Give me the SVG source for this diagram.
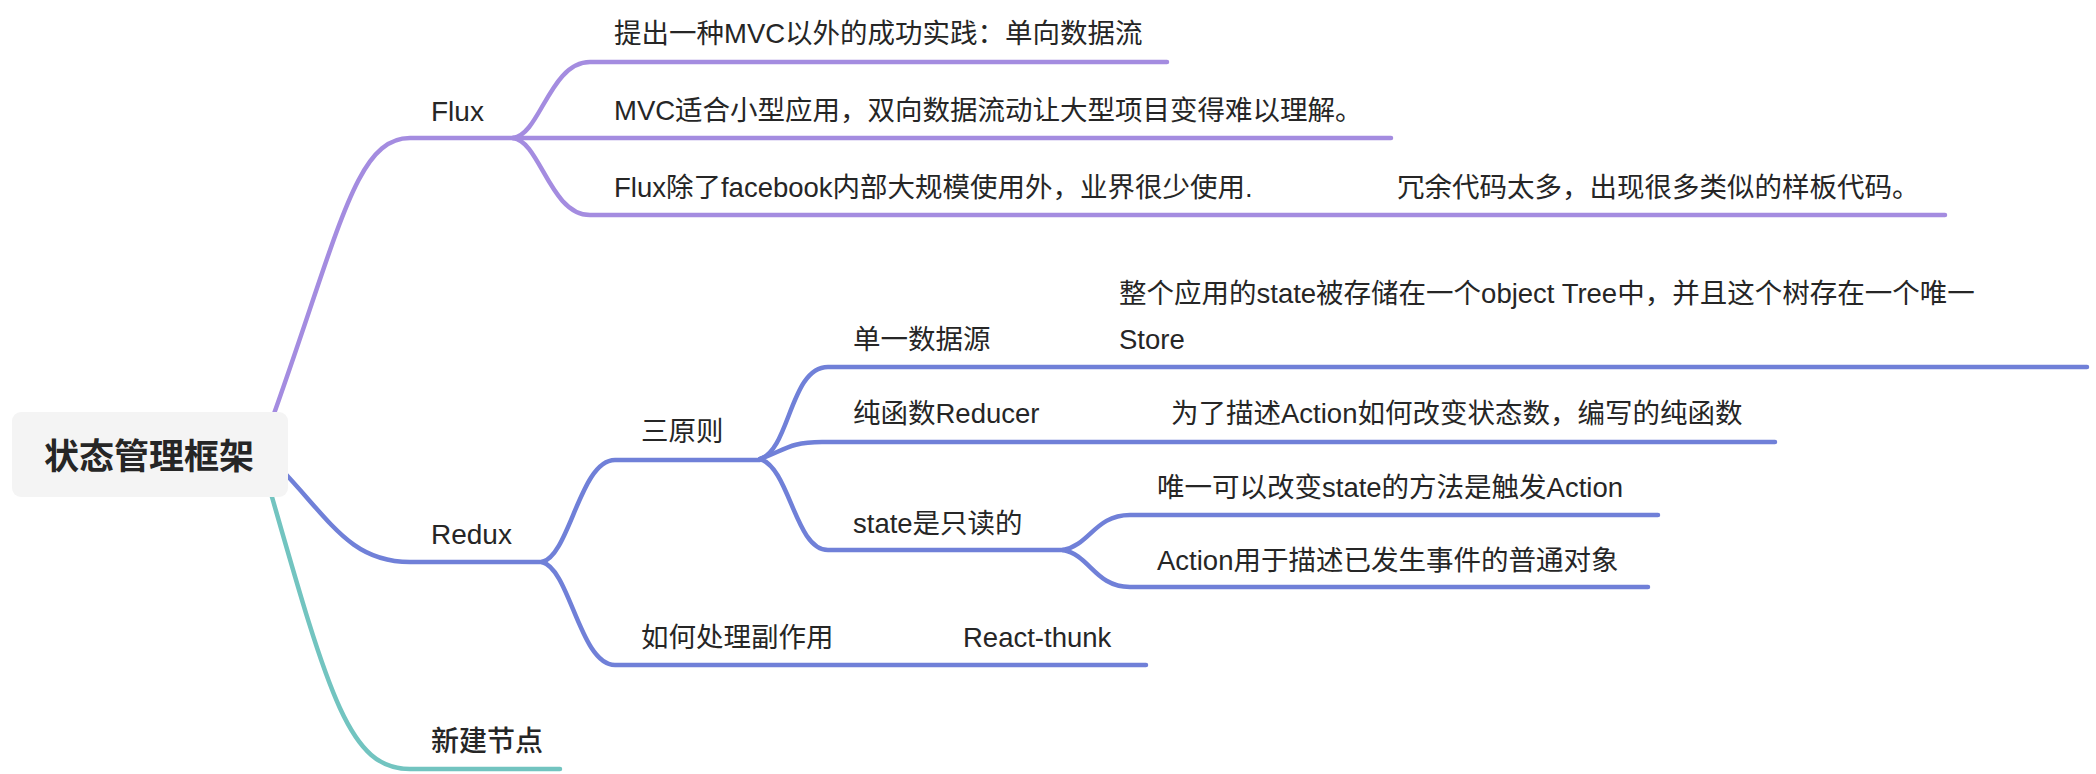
<svg xmlns="http://www.w3.org/2000/svg" width="2096" height="774" viewBox="0 0 2096 774">
<style>
.t{font-family:"Liberation Sans","Noto Sans CJK SC",sans-serif;font-size:27.5px;fill:#262626;dominant-baseline:central}
.m{font-size:28px;font-weight:500}
.r{font-family:"Noto Sans CJK SC","Noto Sans",sans-serif;font-size:35px;font-weight:bold;fill:#262626;dominant-baseline:central;text-anchor:middle}
.c{fill:none;stroke-width:4.5;stroke-linecap:round;stroke-linejoin:round}
.p{stroke:#a48ce0}
.b{stroke:#7080d8}
.g{stroke:#72c4c0}
</style>
<rect width="2096" height="774" fill="#ffffff"/>
<g id="connectors">
<path class="c p" d="M 270 425 C 340 230, 355 138, 410 138 H 513"/>
<path class="c p" d="M 513 138 C 540 135, 550 62, 590 62 H 1167"/>
<path class="c p" d="M 513 138 H 1391"/>
<path class="c p" d="M 513 138 C 540 141, 550 215, 590 215 H 1945"/>
<path class="c b" d="M 280 468 C 330 520, 350 562, 410 562 H 542"/>
<path class="c b" d="M 542 562 C 570 555, 580 460, 615 460 H 760"/>
<path class="c b" d="M 542 562 C 570 569, 580 665, 615 665 H 1146"/>
<path class="c b" d="M 760 459 C 790 450, 790 367, 828 367 H 2087"/>
<path class="c b" d="M 760 459 C 785 450, 790 442, 822 442 H 1775"/>
<path class="c b" d="M 760 459 C 790 468, 795 550, 828 550 H 1063"/>
<path class="c b" d="M 1063 550 C 1090 545, 1095 515, 1130 515 H 1658"/>
<path class="c b" d="M 1063 550 C 1090 555, 1095 587, 1130 587 H 1648"/>
<path class="c g" d="M 270 490 C 330 700, 350 769, 410 769 H 560"/>
</g>
<g id="root">
<rect x="12" y="412" width="276" height="85" rx="9" fill="#f4f4f4"/>
<text class="r" x="149" y="453">状态管理框架</text>
</g>
<g id="flux"><text class="t m" x="431" y="111">Flux</text></g>
<g id="flux-1"><text class="t" x="614" y="33">提出一种MVC以外的成功实践：单向数据流</text></g>
<g id="flux-2"><text class="t" x="614" y="110">MVC适合小型应用，双向数据流动让大型项目变得难以理解。</text></g>
<g id="flux-3"><text class="t" x="614" y="187">Flux除了facebook内部大规模使用外，业界很少使用.</text></g>
<g id="flux-3-1"><text class="t" x="1397" y="187">冗余代码太多，出现很多类似的样板代码。</text></g>
<g id="redux"><text class="t m" x="431" y="534">Redux</text></g>
<g id="principles"><text class="t" x="641" y="431">三原则</text></g>
<g id="single-source"><text class="t" x="853" y="339">单一数据源</text></g>
<g id="single-source-1"><text class="t" x="1119" y="293">整个应用的state被存储在一个object Tree中，并且这个树存在一个唯一</text><text class="t" x="1119" y="339">Store</text></g>
<g id="reducer"><text class="t" x="853" y="413">纯函数Reducer</text></g>
<g id="reducer-1"><text class="t" x="1171" y="413">为了描述Action如何改变状态数，编写的纯函数</text></g>
<g id="readonly"><text class="t" x="853" y="523">state是只读的</text></g>
<g id="readonly-1"><text class="t" x="1157" y="487">唯一可以改变state的方法是触发Action</text></g>
<g id="readonly-2"><text class="t" x="1157" y="560">Action用于描述已发生事件的普通对象</text></g>
<g id="side-effects"><text class="t" x="641" y="637">如何处理副作用</text></g>
<g id="thunk"><text class="t" x="963" y="637">React-thunk</text></g>
<g id="new-node"><text class="t m" x="431" y="741">新建节点</text></g>
</svg>
